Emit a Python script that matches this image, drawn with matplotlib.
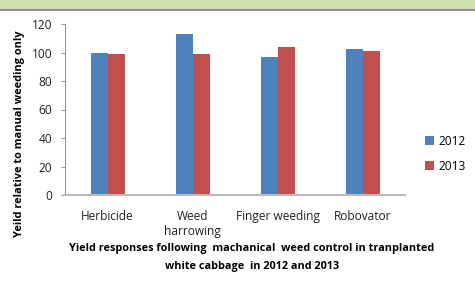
import matplotlib
matplotlib.use("Agg")
import matplotlib.pyplot as plt
import numpy as np

categories = ["Herbicide", "Weed\nharrowing", "Finger weeding", "Robovator"]
years = ["2012", "2013"]
yield_2012 = [99.7, 113, 97, 102.4]
yield_2013 = [98.8, 98.8, 103.8, 101]
yticks = [0, 20, 40, 60, 80, 100, 120]

plt.rcParams['font.family'] = ['Open Sans', 'DejaVu Sans']

fig = plt.figure(figsize=(4.75, 2.97), dpi=100)
W, H = 475, 297
# top green band
fig.patches.append(plt.Rectangle((0, 1 - 8.5 / H), 1, 8.5 / H, transform=fig.transFigure,
                                 facecolor="#d0e0ad", edgecolor="none"))
fig.lines.append(plt.Line2D([0, 1], [1 - 9.5 / H, 1 - 9.5 / H], transform=fig.transFigure,
                            color="#909090", lw=1.5))

ax = fig.add_axes([65 / W, 1 - 195 / H, 340 / W, 171 / H])
x = np.arange(len(categories))
w = 0.2
c1, c2 = "#4f81bd", "#c0504d"
ax.bar(x - w / 2, yield_2012, w, color=c1, label=years[0])
ax.bar(x + w / 2, yield_2013, w, color=c2, label=years[1])
ax.set_xlim(-0.5, len(categories) - 0.5)
ax.set_ylim(0, 120)
ax.set_yticks(yticks)
ax.set_xticks(x)
ax.set_xticklabels(categories, fontsize=8.6, color="#222222", linespacing=1.2)
ax.tick_params(axis="y", labelsize=8.6, length=3, color="#999999", labelcolor="#222222", pad=6)
ax.tick_params(axis="x", length=0, pad=11)
for s in ["top", "right"]:
    ax.spines[s].set_visible(False)
ax.spines["left"].set_color("#999999")
ax.spines["bottom"].set_color("#bbbbbb")
ax.spines["bottom"].set_linewidth(1.5)

fig.text(20 / W, 1 - 134 / H, "Yeild relative to manual weeding only", rotation=90,
         ha="center", va="center", fontsize=7.9, fontweight="bold")
fig.text(252 / W, 1 - 249 / H, "Yield responses following  machanical  weed control in tranplanted",
         ha="center", va="center", fontsize=7.8, fontweight="bold")
fig.text(252 / W, 1 - 267 / H, "white cabbage  in 2012 and 2013",
         ha="center", va="center", fontsize=7.8, fontweight="bold")

ax.legend(loc="center left", bbox_to_anchor=((425 - 65) / 340, (195 - 154) / 171), frameon=False,
          borderaxespad=0, borderpad=0,
          fontsize=8.6, handlelength=0.75, handleheight=0.75, handletextpad=0.35, labelspacing=1.0)

fig.savefig("out.png", dpi=100)
